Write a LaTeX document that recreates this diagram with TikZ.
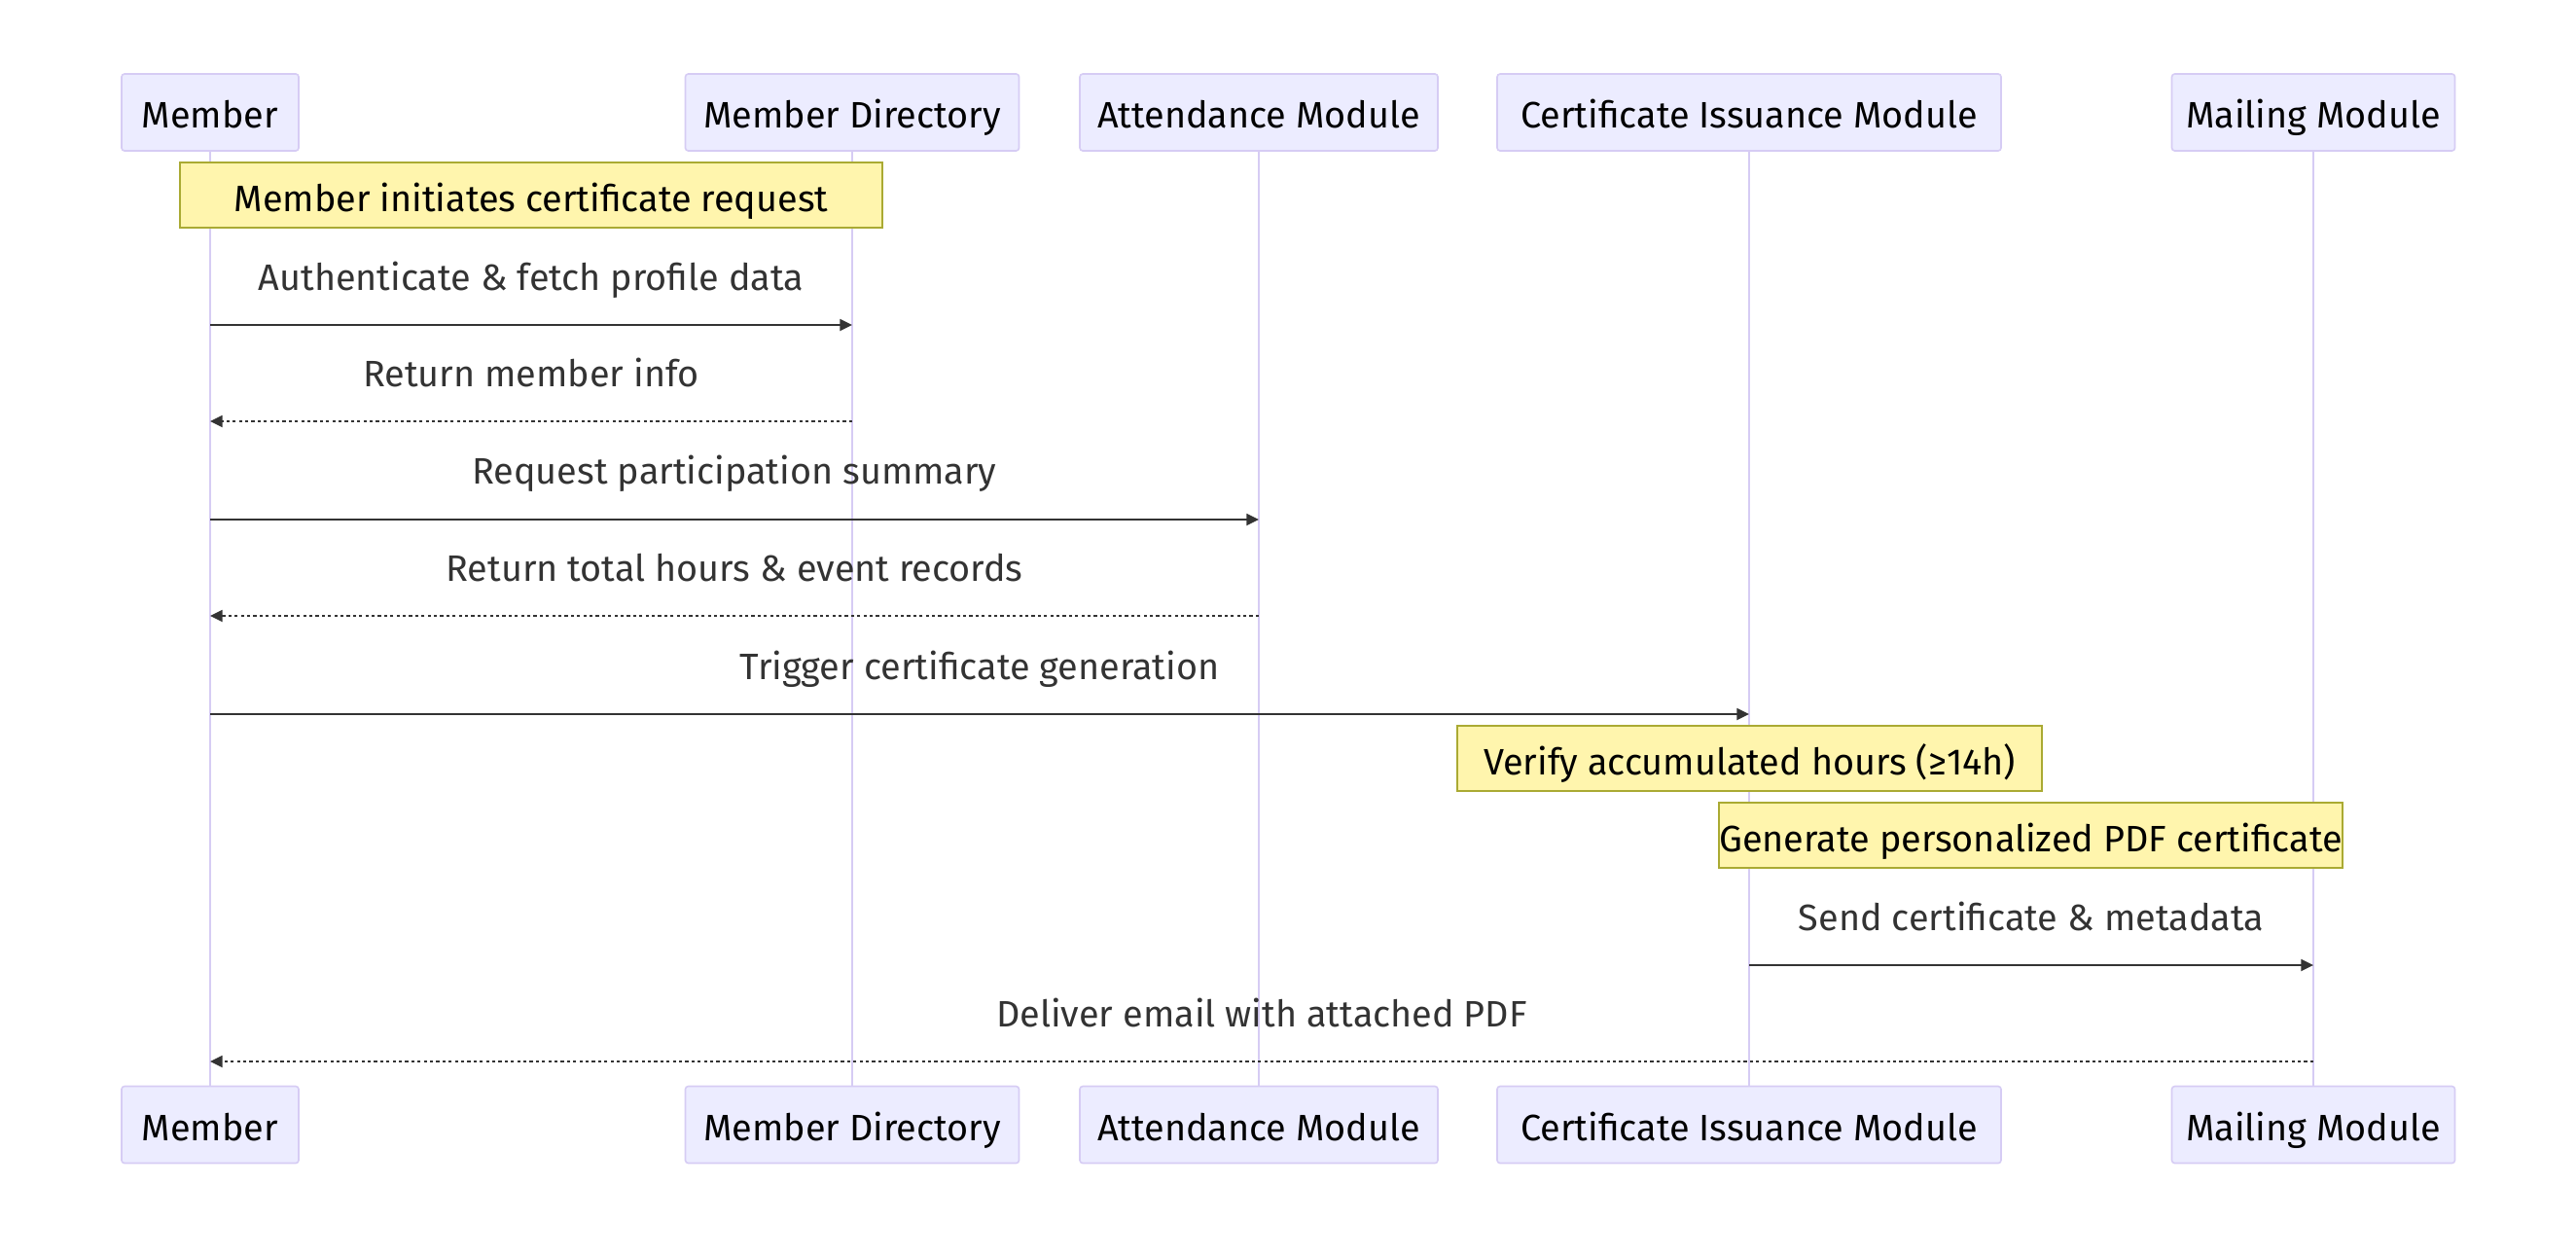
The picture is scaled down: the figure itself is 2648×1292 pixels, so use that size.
\documentclass[tikz,border=0pt]{standalone}
\usepackage{fontspec}
\setmainfont{Fira Sans}
\usetikzlibrary{arrows.meta}
\definecolor{actfill}{HTML}{ECECFF}
\definecolor{actline}{HTML}{D6CCF4}
\definecolor{notefill}{HTML}{FFF5AD}
\definecolor{noteline}{HTML}{AAAA33}
\definecolor{msgcol}{HTML}{333333}
\begin{document}
\begin{tikzpicture}[x=0.5pt,y=-0.5pt,font=\fontsize{18.9}{22}\selectfont]
\useasboundingbox[fill=white] (0,0) rectangle (2648,1292);
\tikzset{
  actor/.style={draw=actline,fill=actfill,line width=0.8pt,rounded corners=1.5pt,minimum height=39.5pt,inner sep=0pt,text=black,text height=16pt,text depth=0pt},
  life/.style={draw=actline,line width=0.8pt},
  notebox/.style={draw=noteline,fill=notefill,line width=0.7pt,minimum height=33.5pt,inner sep=0pt,text=black,text height=16.5pt,text depth=0pt},
  msg/.style={draw=msgcol,line width=0.9pt,-{Triangle[length=6.3pt,width=6pt]}},
  reply/.style={msg,dash pattern=on 1.6pt off 1.6pt},
  mlabel/.style={text=msgcol,inner sep=0pt,anchor=base}
}
% top actors
\node[actor,minimum width=91pt]    (mT) at (216,115.5)  {Member};
\node[actor,minimum width=171.5pt] (dT) at (876,115.5)  {Member Directory};
\node[actor,minimum width=184pt]   (aT) at (1294,115.5) {Attendance Module};
\node[actor,minimum width=259pt]   (cT) at (1798,115.5) {Certificate Issuance Module};
\node[actor,minimum width=145.5pt] (xT) at (2378,115.5) {Mailing Module};
% bottom actors
\node[actor,minimum width=91pt]    (mB) at (216,1156)  {Member};
\node[actor,minimum width=171.5pt] (dB) at (876,1156)  {Member Directory};
\node[actor,minimum width=184pt]   (aB) at (1294,1156) {Attendance Module};
\node[actor,minimum width=259pt]   (cB) at (1798,1156) {Certificate Issuance Module};
\node[actor,minimum width=145.5pt] (xB) at (2378,1156) {Mailing Module};
% lifelines
\draw[life] (mT.south) -- (mB.north);
\draw[life] (dT.south) -- (dB.north);
\draw[life] (aT.south) -- (aB.north);
\draw[life] (cT.south) -- (cB.north);
\draw[life] (xT.south) -- (xB.north);
% note 1
\node[notebox,minimum width=361pt] (n1) at (546,200.5) {Member initiates certificate request};
% message 1
\coordinate (m1a) at (mT |- 0,334); \coordinate (m1b) at (dT |- 0,334);
\draw[msg] (m1a) -- (m1b);
\node[mlabel] (l1) at (546,298.5) {Authenticate \& fetch profile data};
% message 2
\coordinate (m2a) at (dT |- 0,433); \coordinate (m2b) at (mT |- 0,433);
\draw[reply] (m2a) -- (m2b);
\node[mlabel] (l2) at (546,397.5) {Return member info};
% message 3
\coordinate (m3a) at (mT |- 0,534); \coordinate (m3b) at (aT |- 0,534);
\draw[msg] (m3a) -- (m3b);
\node[mlabel] (l3) at (755,497.5) {Request participation summary};
% message 4
\coordinate (m4a) at (aT |- 0,633); \coordinate (m4b) at (mT |- 0,633);
\draw[reply] (m4a) -- (m4b);
\node[mlabel] (l4) at (755,597) {Return total hours \& event records};
% message 5
\coordinate (m5a) at (mT |- 0,734); \coordinate (m5b) at (cT |- 0,734);
\draw[msg] (m5a) -- (m5b);
\node[mlabel] (l5) at (1007,698.5) {Trigger certificate generation};
% notes 2,3
\node[notebox,minimum width=300.5pt] (n2) at (1798.5,779.5) {Verify accumulated hours (≥14h)};
\node[notebox,minimum width=320.5pt] (n3) at (2087.5,858.5) {Generate personalized PDF certificate};
% message 6
\coordinate (m6a) at (cT |- 0,992); \coordinate (m6b) at (xT |- 0,992);
\draw[msg] (m6a) -- (m6b);
\node[mlabel] (l6) at (2088,956) {Send certificate \& metadata};
% message 7
\coordinate (m7a) at (xT |- 0,1091); \coordinate (m7b) at (mT |- 0,1091);
\draw[reply] (m7a) -- (m7b);
\node[mlabel] (l7) at (1297,1055.5) {Deliver email with attached PDF};
\end{tikzpicture}
\end{document}
